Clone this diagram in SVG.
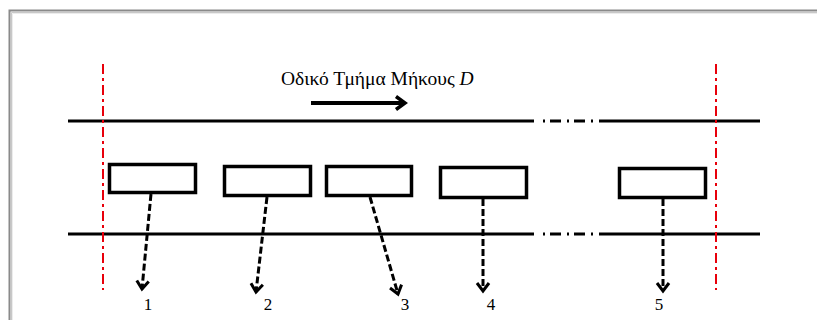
<svg xmlns="http://www.w3.org/2000/svg" width="817" height="320" viewBox="0 0 817 320">
  <defs>
    <style>
      .road { stroke: #000; stroke-width: 3; fill: none; }
      .gap { stroke: #000; stroke-width: 3; fill: none; stroke-dasharray: 2 5 11 6; }
      .limit { stroke: #e8000b; stroke-width: 2; fill: none; stroke-dasharray: 10 4 3 4; }
      .veh { fill: #fff; stroke: #000; stroke-width: 3.5; }
      .path { stroke: #000; stroke-width: 3; fill: none; stroke-dasharray: 7 3; marker-end: url(#head); }
      .label { font-family: "Liberation Serif", "Times New Roman", serif; font-size: 17px; fill: #000; }
      .title { font-family: "Liberation Serif", "Times New Roman", serif; font-size: 19.5px; fill: #000; }
    </style>
    <marker id="head" viewBox="0 0 16 16" refX="13" refY="8" markerWidth="16" markerHeight="16" markerUnits="userSpaceOnUse" orient="auto">
      <path d="M5,2 L13,8 L5,14" fill="none" stroke="#000" stroke-width="3" stroke-linejoin="miter"/>
    </marker>
    <marker id="bighead" viewBox="0 0 16 16" refX="13" refY="8" markerWidth="16" markerHeight="16" markerUnits="userSpaceOnUse" orient="auto">
      <path d="M4,1.5 L13,8 L4,14.5" fill="none" stroke="#000" stroke-width="3.5"/>
    </marker>
  </defs>

  <rect width="817" height="320" fill="#fff"/>

  <!-- page frame with soft inner shading -->
  <g id="frame" fill="none">
    <path d="M9.5,320 V10.5 H817" stroke="#8a8a8a" stroke-width="2"/>
    <path d="M11.5,320 V12.5 H817" stroke="#c8c8c8" stroke-width="1"/>
    <path d="M12.5,320 V13.5 H817" stroke="#ececec" stroke-width="1"/>
  </g>

  <!-- road section edges -->
  <g id="road">
    <line class="road" x1="68" y1="121" x2="534" y2="121"/>
    <line class="gap" x1="543" y1="121" x2="597" y2="121"/>
    <line class="road" x1="599" y1="121" x2="760" y2="121"/>
    <line class="road" x1="68" y1="234" x2="534" y2="234"/>
    <line class="gap" x1="543" y1="234" x2="597" y2="234"/>
    <line class="road" x1="599" y1="234" x2="760" y2="234"/>
  </g>

  <!-- section limits -->
  <g id="limits">
    <line class="limit" x1="103" y1="64" x2="103" y2="290"/>
    <line class="limit" x1="716" y1="64" x2="716" y2="290"/>
  </g>

  <!-- title and travel direction -->
  <g id="title">
    <text class="title" x="281" y="85">Οδικό Τμήμα Μήκους <tspan font-style="italic">D</tspan></text>
    <line x1="311" y1="103" x2="405" y2="103" stroke="#000" stroke-width="4" marker-end="url(#bighead)"/>
  </g>

  <!-- vehicles -->
  <g id="v1"><rect class="veh" x="109.5" y="164.5" width="86" height="28"/></g>
  <g id="v2"><rect class="veh" x="224.5" y="166.5" width="86" height="29"/></g>
  <g id="v3"><rect class="veh" x="326.5" y="166.5" width="85" height="29"/></g>
  <g id="v4"><rect class="veh" x="440.5" y="167.5" width="86" height="30"/></g>
  <g id="v5"><rect class="veh" x="619.5" y="168.5" width="86" height="29"/></g>

  <!-- exit paths -->
  <g id="connectors">
    <line class="path" x1="151" y1="194" x2="142" y2="289"/>
    <line class="path" x1="267" y1="197" x2="256" y2="292"/>
    <line class="path" x1="370" y1="197" x2="398" y2="294"/>
    <line class="path" x1="483" y1="199" x2="483" y2="291"/>
    <line class="path" x1="663" y1="199" x2="663" y2="291"/>
  </g>

  <!-- exit numbers -->
  <g id="numbers">
    <text class="label" x="148" y="310" text-anchor="middle">1</text>
    <text class="label" x="268" y="310" text-anchor="middle">2</text>
    <text class="label" x="405" y="310" text-anchor="middle">3</text>
    <text class="label" x="491" y="310" text-anchor="middle">4</text>
    <text class="label" x="659" y="310" text-anchor="middle">5</text>
  </g>
</svg>
